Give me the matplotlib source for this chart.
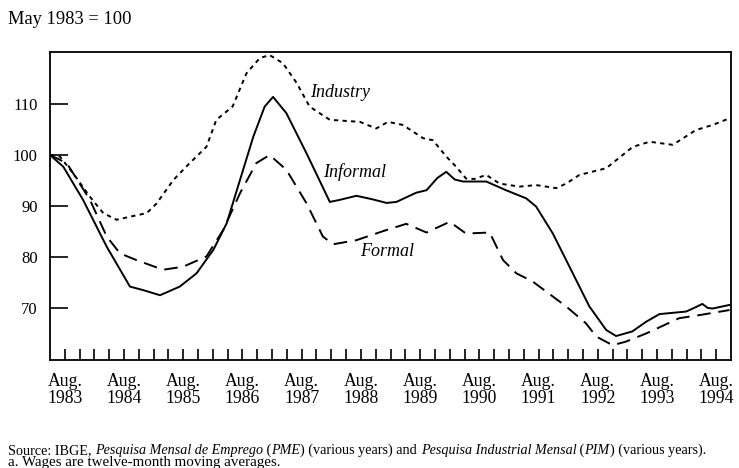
import matplotlib
matplotlib.use("Agg")
import matplotlib.pyplot as plt
import numpy as np

# Months since May 1983 and index values (May 1983 = 100)
ind_m = [0, 2, 4.7, 8.1, 10.8, 13.5, 16.2, 19.6, 21.6, 25, 28.3, 31.7, 33.7, 37, 39.8, 42.5, 44.5, 47.2, 50,
         52.6, 56.7, 62.8, 66.1, 68.5, 71.5, 75.6, 77.6, 80.3, 82.3, 84.3, 86, 88.4, 91.1, 95.1, 98.5, 102.6,
         104.6, 107.3, 112.7, 118.1, 121.5, 126.2, 130.9, 134.3, 137.7]
ind_v = [100, 99.7, 96.4, 91.8, 88.6, 87.3, 87.9, 88.6, 90.5, 95.1, 98.4, 101.6, 106.9, 109.5, 116, 119, 119.6,
         118, 114.1, 109.5, 106.9, 106.5, 105.2, 106.5, 105.9, 103.3, 102.9, 99.7, 97.7, 95.4, 95.3, 96.1, 94.4,
         93.8, 94.1, 93.5, 94.4, 96.1, 97.4, 101.6, 102.6, 102, 104.9, 105.9, 107.2]

inf_m = [0, 2.7, 6.7, 11.5, 16.2, 18.9, 22.3, 26.3, 29.7, 33.1, 35.8, 38.5, 41.2, 43.5, 45.2, 47.9, 52, 56.7,
         58.7, 62.1, 65.4, 68.2, 70.2, 74.2, 76.3, 78.5, 80.3, 82, 83.7, 88.4, 92.4, 96.5, 98.5, 101.9, 109.3,
         112.7, 114.7, 118, 120.8, 123.5, 128.9, 130.5, 132.2, 133.3, 134.3, 137.7]
inf_v = [100, 97.7, 91.2, 82, 74.2, 73.5, 72.5, 74.2, 76.8, 81.4, 86.6, 95.1, 103.6, 109.5, 111.4, 108.2, 100.3,
         90.8, 91.2, 92, 91.3, 90.6, 90.8, 92.6, 93.1, 95.5, 96.7, 95.2, 94.8, 94.8, 93.1, 91.5, 89.9, 84.6, 70.3,
         65.7, 64.5, 65.4, 67.3, 68.8, 69.3, 70, 70.8, 70.0, 69.9, 70.6]

for_m = [0, 3.4, 8.1, 11.5, 14.2, 17.5, 22.9, 27, 31.7, 35.1, 38.5, 41.8, 44.5, 47.9, 52, 55.3, 57.4, 62.1,
         68.2, 72.2, 76.3, 81, 84.3, 89.1, 91.8, 94.5, 97.8, 104.6, 108.6, 110.7, 114, 116.7, 120.8, 127.5,
         131.6, 137.7]
for_v = [100, 98.4, 91.2, 84, 80.7, 79.4, 77.5, 78.1, 80.1, 85.3, 92.5, 98.4, 100, 97.1, 90.5, 84, 82.5, 83.3,
         85.3, 86.5, 84.8, 86.9, 84.6, 84.8, 79.4, 76.8, 75.2, 70.3, 67, 64.4, 62.7, 63.4, 65, 68, 68.6, 69.6]

years = [1983, 1984, 1985, 1986, 1987, 1988, 1989, 1990, 1991, 1992, 1993, 1994]
y_ticks = [70, 80, 90, 100, 110]
series_labels = ["Industry", "Informal", "Formal"]

plt.rcParams['font.family'] = ['Liberation Serif', 'DejaVu Serif']

fig = plt.figure(figsize=(7.39, 4.68), dpi=100)
ax = fig.add_axes([50/739, 1-360/468, 681/739, 308/468])

lw = 1.4
ax.plot(ind_m, ind_v, color='black', lw=lw, linestyle=(0, (2.2, 2.2)))
ax.plot(inf_m, inf_v, color='black', lw=lw, linestyle='-')
ax.plot(for_m, for_v, color='black', lw=lw, linestyle=(0, (7, 4)))

ax.set_xlim(0, 138)
ax.set_ylim(59.8, 120.2)

major = [3 + 12*i for i in range(len(years))]
ax.set_xticks(major)
ax.set_xticklabels([f"Aug.\n{y}" for y in years], fontsize=12.7, linespacing=1.05)
ax.set_xticks(np.arange(3, 138, 3), minor=True)
ax.tick_params(axis='x', which='both', direction='in', length=8, width=1.2, pad=9, top=False)
ax.set_yticks(y_ticks)
ax.set_yticklabels([str(v) for v in y_ticks], fontsize=12)
ax.tick_params(axis='y', direction='in', length=13, width=1.2, pad=9, right=False)
ax.tick_params(axis='y', which='minor', left=False)

for s in ax.spines.values():
    s.set_linewidth(1.3)

ax.text(52.8, 112.2, series_labels[0], style='italic', fontsize=13, va='center', ha='left')
ax.text(55.3, 96.7, series_labels[1], style='italic', fontsize=13, va='center', ha='left')
ax.text(62.8, 81.0, series_labels[2], style='italic', fontsize=13, va='center', ha='left')

fig.text(8/739, 1-20/468, "May 1983 = 100", fontsize=13.3, va='center', ha='left')

# Source lines with mixed italic pieces chained one after another
pieces = [("Source: IBGE, ", 'normal'), ("Pesquisa Mensal de Emprego", 'italic'), (" (", 'normal'),
          ("PME", 'italic'), (") (various years) and ", 'normal'), ("Pesquisa Industrial Mensal", 'italic'),
          (" (", 'normal'), ("PIM", 'italic'), (") (various years).", 'normal')]
fs = 10.2
prev = fig.text(8/739, 1-454/468, pieces[0][0], fontsize=fs, style=pieces[0][1], va='baseline', ha='left')
for txt, st in pieces[1:]:
    prev = ax.annotate(txt, xy=(1, 0), xycoords=prev, fontsize=fs, style=st,
                       ha='left', va='bottom', annotation_clip=False)
fig.text(8/739, 1-466/468, "a. Wages are twelve-month moving averages.", fontsize=10.8,
         va='baseline', ha='left')

fig.savefig("out.png", dpi=100)
